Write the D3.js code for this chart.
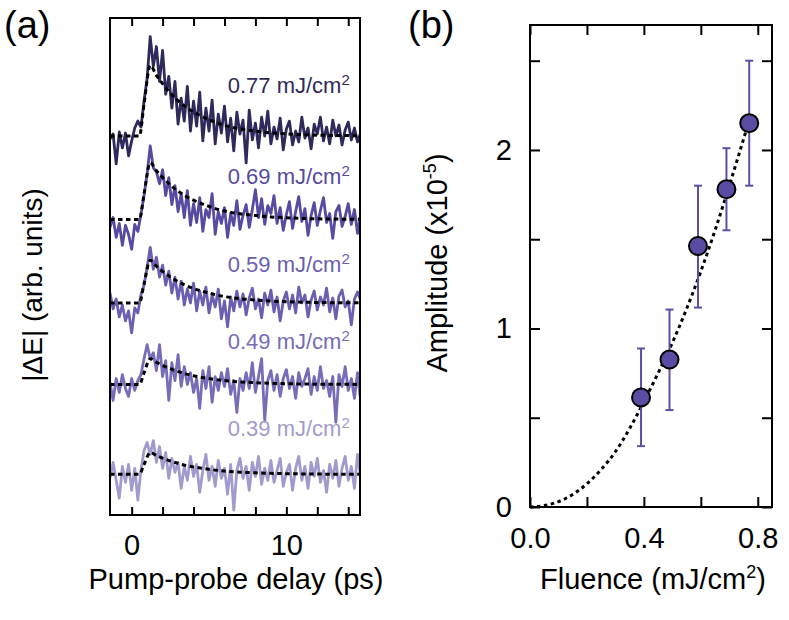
<!DOCTYPE html>
<html><head><meta charset="utf-8">
<script src="https://cdn.jsdelivr.net/npm/d3@7"></script>
<style>body{margin:0;background:#fff} svg{display:block}</style>
</head><body><svg id="c" width="789" height="620"></svg>
<script>
// ---------------- DATA ----------------
const fluences = [0.77, 0.69, 0.59, 0.49, 0.39];           // mJ/cm^2
const traceColors = ["#2e2a5c", "#574aa1", "#6a5fb0", "#766cb8", "#a19bcd"];

// pump-probe delay grid (ps)
const delays = [-1.4,-1.2,-1.0,-0.8,-0.6,-0.4,-0.2,0,0.2,0.4,
  0.6,0.8,1.0,1.2,1.4,1.6,1.8,2.0,2.2,2.4,
  2.6,2.8,3.0,3.2,3.4,3.6,3.8,4.0,4.2,4.4,
  4.6,4.8,5.0,5.2,5.4,5.6,5.8,6.0,6.2,6.4,
  6.6,6.8,7.0,7.2,7.4,7.6,7.8,8.0,8.2,8.4,
  8.6,8.8,9.0,9.2,9.4,9.6,9.8,10.0,10.2,10.4,
  10.6,10.8,11.0,11.2,11.4,11.6,11.8,12.0,12.2,12.4,
  12.6,12.8,13.0,13.2,13.4,13.6,13.8,14.0,14.2,14.4,
  14.6,14.8];

// |ΔE| traces (arb. units, relative to each trace's own baseline)
const trace077 = [-0.3,0.2,-2.8,0.4,-1.2,0.3,-2.0,-0.5,0.8,1.5,
  0.9,3.5,5.8,10.0,7.0,9.0,5.5,8.6,4.2,6.0,
  2.8,5.5,1.2,3.8,1.5,5.0,0.5,3.5,1.0,4.4,
  -0.5,2.8,0.5,3.6,-0.8,2.2,0.3,3.0,-0.6,1.8,
  -1.5,2.4,0.2,1.6,-2.7,2.6,-0.4,1.3,-1.2,1.9,
  0.0,2.5,-0.8,0.9,-0.3,1.8,-1.4,0.7,1.5,-0.9,
  0.5,-0.6,1.9,-0.2,0.8,-1.3,1.2,0.2,1.9,-0.5,
  0.9,-0.8,1.6,0.0,1.1,-0.9,0.6,1.4,-0.4,0.8,
  -0.6,0.3];
const trace069 = [-0.8,0.2,-1.8,-0.4,-2.6,-0.6,-1.5,-3.0,-0.5,-1.2,
  0.5,2.4,4.6,7.4,5.2,4.8,3.6,5.0,2.4,4.2,
  1.5,3.4,0.8,2.6,0.2,2.9,-0.6,1.6,-0.3,2.2,
  -1.2,1.0,0.2,2.6,-1.5,0.8,-0.4,1.2,-1.8,0.6,
  -0.6,1.9,-1.0,0.4,1.5,-0.8,1.0,3.0,0.2,2.1,
  -0.5,1.4,0.6,2.4,-0.4,1.2,-1.1,0.5,1.8,-0.9,
  0.8,2.3,-0.2,1.1,-1.6,0.4,1.7,-0.6,0.9,2.2,
  -0.3,0.6,-1.9,0.8,1.4,-0.7,0.3,1.6,-0.5,1.0,
  -1.4,0.5];
const trace059 = [1.0,-0.6,0.4,-1.4,-0.2,-1.8,-0.8,-3.0,-0.5,-1.0,
  0.8,1.8,3.6,5.6,3.4,4.6,2.6,3.8,1.8,3.2,
  1.0,2.6,0.4,2.2,-0.2,1.4,0.0,2.0,-0.8,1.2,
  -0.2,1.6,-1.0,0.8,-0.4,1.4,-1.6,0.2,-2.4,0.6,
  -0.8,1.2,-0.4,0.9,-1.2,0.5,1.5,-0.6,0.4,-1.5,
  1.0,-0.2,1.3,-0.9,0.6,-1.8,0.2,1.1,-0.6,0.8,
  -1.0,1.6,0.0,0.8,-1.4,0.3,1.2,-0.7,0.6,-0.2,
  1.5,-0.9,0.5,-1.6,0.7,1.3,-0.4,0.2,-2.2,0.4,
  1.1,0.3];
const trace049 = [0.2,-1.6,0.6,-0.8,1.0,-0.4,-1.2,0.6,-0.6,0.4,
  1.0,2.6,4.0,2.6,3.2,1.4,4.0,0.8,2.4,-1.6,
  2.2,0.4,3.0,-0.2,1.8,0.0,1.2,-0.8,0.6,-2.4,
  1.4,-0.4,1.8,-1.8,0.8,-0.6,1.2,-0.2,1.6,-1.0,
  0.4,-2.8,0.6,-0.6,1.2,-0.4,2.2,-0.8,0.8,2.6,
  -3.6,0.4,1.4,-0.6,1.0,-1.2,0.6,1.5,-0.4,0.8,
  -1.4,1.2,-0.2,0.6,1.6,-1.0,0.8,-0.6,1.8,-0.4,
  0.4,-1.2,0.8,-3.8,1.0,-0.2,1.8,-0.6,0.6,-1.4,
  1.2,-1.6];
const trace039 = [-0.4,1.2,-0.6,-2.4,0.8,-0.8,1.0,-1.6,0.6,-2.6,
  0.4,2.4,3.2,2.0,3.4,1.2,2.8,0.6,2.2,-0.4,
  1.6,0.2,1.2,-1.4,0.8,-0.6,1.8,-0.2,1.0,-1.8,
  0.4,2.0,-0.6,0.8,-1.2,1.4,-0.4,0.6,-2.0,1.0,
  -3.6,0.4,1.6,-0.4,0.8,-1.6,1.2,-0.2,1.8,-1.0,
  0.6,-0.6,1.4,-0.8,0.4,1.6,-1.2,0.2,1.0,-1.6,
  0.6,1.8,-0.6,0.8,-1.4,1.2,-0.2,1.6,-0.8,0.4,
  -1.8,1.0,-0.4,1.4,-1.2,0.6,1.8,-0.6,0.8,-1.4,
  2.0,-0.2];
const traces = [trace077, trace069, trace059, trace049, trace039];

// fitted response (normalised shape) and amplitudes
const fitDelay = [-1.4, 0.5, 0.8, 1.2, 1.6, 2.0, 2.5, 3.0, 3.5, 4.0, 5.0, 6.0, 7.0, 8.0, 9.0, 10.0, 12.0, 14.8];
const fitShape = [0, 0, 0.45, 1, 0.86, 0.74, 0.61, 0.5, 0.41, 0.34, 0.23, 0.15, 0.1, 0.07, 0.045, 0.03, 0.012, 0.004];
const fitAmplitude = [7.1, 5.7, 4.3, 2.6, 2.2];

// panel (b): amplitude vs fluence (x1e-5)
const amplitude = [2.15, 1.78, 1.462, 0.826, 0.614];
const ampErrHigh = [2.50, 2.01, 1.80, 1.106, 0.888];
const ampErrLow  = [1.80, 1.55, 1.117, 0.543, 0.341];
const powerFitFluence   = [0, 0.05, 0.1, 0.15, 0.2, 0.25, 0.3, 0.35, 0.4, 0.45, 0.5, 0.55, 0.6, 0.65, 0.7, 0.765];
const powerFitAmplitude = [0, 0.008, 0.03, 0.07, 0.13, 0.21, 0.31, 0.44, 0.59, 0.75, 0.92, 1.11, 1.32, 1.55, 1.80, 2.14];

// ticks
const delayTicks = [0, 2, 4, 6, 8, 10, 12, 14];
const delayTickLabels = { 0: "0", 10: "10" };
const fluenceTicks = [0, 0.2, 0.4, 0.6, 0.8];
const fluenceTickLabels = { 0: "0.0", 0.4: "0.4", 0.8: "0.8" };
const ampTicks = [0, 0.5, 1, 1.5, 2, 2.5];
const ampTickLabels = { 0: "0", 1: "1", 2: "2" };

// ---------------- LAYOUT ----------------
const FONT = '"Liberation Sans", Arial, Helvetica, sans-serif';
const baselines = [38.13, 29.73, 21.33, 13.13, 4.09];   // vertical offsets of traces (arb. units)
const labelLift = [4.3, 3.6, 3.1, 3.6, 3.9];
const labelDelay = 14.1;
const TITLE = 29, TICK = 29;

const svg = d3.select("#c");

// ===== Panel (a) =====
const xA = d3.scaleLinear().domain([-1.4, 14.76]).range([110, 360]);
const yA = d3.scaleLinear().domain([0, 50]).range([515, 18]);

svg.append("clipPath").attr("id", "clipA").append("rect")
  .attr("x", 110).attr("y", 18).attr("width", 250).attr("height", 497);

const gA = svg.append("g").attr("clip-path", "url(#clipA)");
traces.forEach((tr, i) => {
  const line = d3.line().x((d, j) => xA(delays[j])).y(d => yA(baselines[i] + d));
  gA.append("path").datum(tr).attr("d", line).attr("fill", "none")
    .attr("stroke", traceColors[i]).attr("stroke-width", 2.8).attr("stroke-linejoin", "round");
});
traces.forEach((tr, i) => {
  const fl = d3.line().curve(d3.curveMonotoneX)
    .x((d, j) => xA(fitDelay[j])).y(d => yA(baselines[i] + fitAmplitude[i] * d));
  gA.append("path").datum(fitShape).attr("d", fl).attr("fill", "none")
    .attr("stroke", "#000").attr("stroke-width", 3).attr("stroke-dasharray", "4.5,3.5");
});
fluences.forEach((f, i) => {
  const t = svg.append("text").attr("x", xA(labelDelay)).attr("y", yA(baselines[i] + labelLift[i]))
    .attr("text-anchor", "end").attr("font-family", FONT).attr("font-size", 22).attr("fill", traceColors[i]);
  t.append("tspan").text(f.toFixed(2) + " mJ/cm");
  t.append("tspan").attr("font-size", 15).attr("dy", -8).text("2");
});

// axes (a)
const axA = svg.append("g").attr("transform", "translate(0,515)")
  .call(d3.axisBottom(xA).tickValues(delayTicks).tickSize(-8).tickSizeOuter(0).tickPadding(19)
    .tickFormat(d => delayTickLabels[d] || ""));
const axAT = svg.append("g").attr("transform", "translate(0,18)")
  .call(d3.axisTop(xA).tickValues(delayTicks).tickSize(-8).tickSizeOuter(0).tickFormat(""));
[axA, axAT].forEach(g => {
  g.select(".domain").remove();
  g.selectAll(".tick line").attr("stroke", "#000").attr("stroke-width", 2);
  g.selectAll("text").attr("font-family", FONT).attr("font-size", TICK).attr("fill", "#000");
});
svg.append("rect").attr("x", 110).attr("y", 18).attr("width", 250).attr("height", 497)
  .attr("fill", "none").attr("stroke", "#000").attr("stroke-width", 2);

svg.append("text").attr("x", 236).attr("y", 589).attr("text-anchor", "middle")
  .attr("font-family", FONT).attr("font-size", TITLE).text("Pump-probe delay (ps)");
svg.append("text").attr("transform", "translate(42,285) rotate(-90)").attr("text-anchor", "middle")
  .attr("font-family", FONT).attr("font-size", 28).text("|ΔE| (arb. units)");
svg.append("text").attr("x", 4).attr("y", 38).attr("font-family", FONT).attr("font-size", 38).text("(a)");

// ===== Panel (b) =====
const xB = d3.scaleLinear().domain([0, 0.85]).range([530, 772]);
const yB = d3.scaleLinear().domain([0, 2.7]).range([507, 25]);

const axB = svg.append("g").attr("transform", "translate(0,507)")
  .call(d3.axisBottom(xB).tickValues(fluenceTicks).tickSize(-10).tickSizeOuter(0).tickPadding(20)
    .tickFormat(d => fluenceTickLabels[d] || ""));
const axBT = svg.append("g").attr("transform", "translate(0,25)")
  .call(d3.axisTop(xB).tickValues(fluenceTicks).tickSize(-10).tickSizeOuter(0).tickFormat(""));
const axBL = svg.append("g").attr("transform", "translate(530,0)")
  .call(d3.axisLeft(yB).tickValues(ampTicks).tickSize(-10).tickSizeOuter(0).tickPadding(18)
    .tickFormat(d => ampTickLabels[d] || ""));
const axBR = svg.append("g").attr("transform", "translate(772,0)")
  .call(d3.axisRight(yB).tickValues(ampTicks).tickSize(-10).tickSizeOuter(0).tickFormat(""));
[axB, axBT, axBL, axBR].forEach(g => {
  g.select(".domain").remove();
  g.selectAll(".tick line").attr("stroke", "#000").attr("stroke-width", 2);
  g.selectAll("text").attr("font-family", FONT).attr("font-size", TICK).attr("fill", "#000");
});
svg.append("rect").attr("x", 530).attr("y", 25).attr("width", 242).attr("height", 482)
  .attr("fill", "none").attr("stroke", "#000").attr("stroke-width", 2);

// fit curve
const pf = d3.line().curve(d3.curveMonotoneX).x((d, j) => xB(powerFitFluence[j])).y(d => yB(d));
svg.append("path").datum(powerFitAmplitude).attr("d", pf).attr("fill", "none")
  .attr("stroke", "#000").attr("stroke-width", 3).attr("stroke-dasharray", "3.5,3.5");

// error bars
const eb = svg.append("g").attr("stroke", "#5b4fa6").attr("stroke-width", 2);
fluences.forEach((f, i) => {
  eb.append("line").attr("x1", xB(f)).attr("x2", xB(f)).attr("y1", yB(ampErrLow[i])).attr("y2", yB(ampErrHigh[i]));
  [ampErrLow[i], ampErrHigh[i]].forEach(v => {
    eb.append("line").attr("x1", xB(f) - 4).attr("x2", xB(f) + 4).attr("y1", yB(v)).attr("y2", yB(v));
  });
});
svg.append("g").selectAll("circle").data(fluences).join("circle")
  .attr("cx", d => xB(d)).attr("cy", (d, i) => yB(amplitude[i])).attr("r", 9)
  .attr("fill", "#5a4ca3").attr("stroke", "#000").attr("stroke-width", 2);

// labels (b)
const fl = svg.append("text").attr("x", 653).attr("y", 589).attr("text-anchor", "middle")
  .attr("font-family", FONT).attr("font-size", TITLE);
fl.append("tspan").text("Fluence (mJ/cm");
fl.append("tspan").attr("font-size", 18).attr("dy", -11).text("2");
fl.append("tspan").attr("dy", 11).text(")");

const al = svg.append("text").attr("transform", "translate(447,263) rotate(-90)").attr("text-anchor", "middle")
  .attr("font-family", FONT).attr("font-size", TITLE);
al.append("tspan").text("Amplitude (x10");
al.append("tspan").attr("font-size", 18).attr("dy", -11).text("-5");
al.append("tspan").attr("dy", 11).text(")");

svg.append("text").attr("x", 408).attr("y", 38).attr("font-family", FONT).attr("font-size", 38).text("(b)");
</script></body></html>
